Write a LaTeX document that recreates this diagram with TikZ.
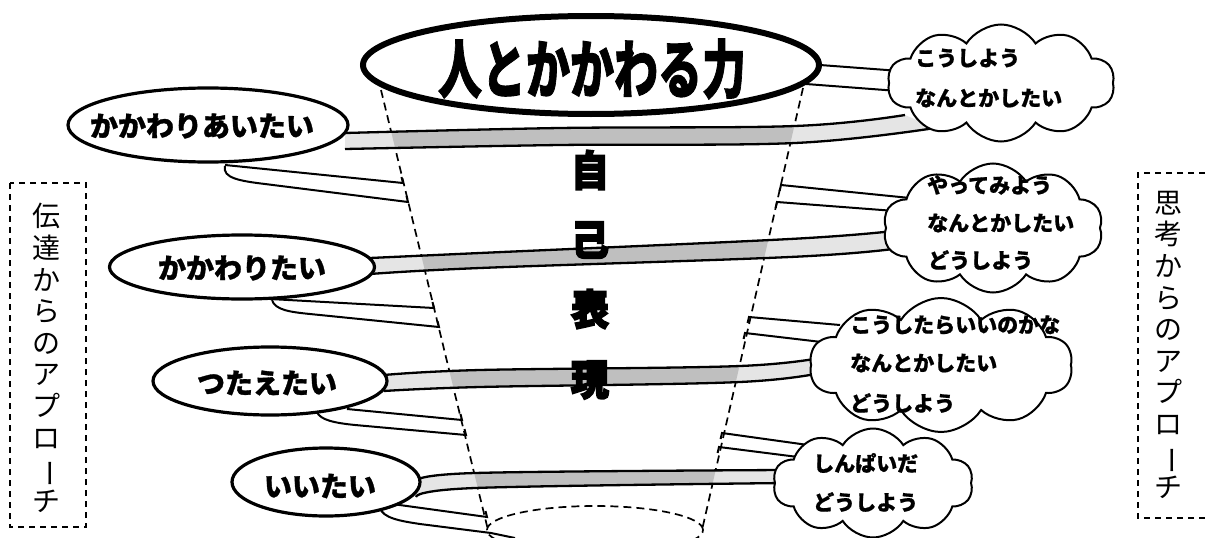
\documentclass[tikz,border=0pt]{standalone}
\usepackage{fontspec}
\usepackage{graphicx}
\usetikzlibrary{shapes.symbols,shapes.geometric}
\newfontfamily\jp{Noto Sans CJK JP}
\newcommand\bandA{plot[smooth, tension=0.6] coordinates {(345,133) (560,128) (795,126) (905,115)} -- plot[smooth, tension=0.6] coordinates {(935,128) (795,143) (560,145) (345,149)} -- cycle}
\newcommand\bandB{plot[smooth, tension=0.6] coordinates {(370,258) (480,253) (790,239) (893,231)} -- plot[smooth, tension=0.6] coordinates {(893,249) (790,257) (480,268) (370,274)} -- cycle}
\newcommand\bandC{plot[smooth, tension=0.6] coordinates {(384,375) (480,370) (740,366) (830,356)} -- plot[smooth, tension=0.6] coordinates {(830,371) (740,382) (480,387) (384,391)} -- cycle}
\newcommand\bandD{plot[smooth, tension=0.6] coordinates {(416,481) (475,473) (785,470)} -- plot[smooth, tension=0.6] coordinates {(785,483) (475,488) (416,497)} -- cycle}
\begin{document}
\begin{tikzpicture}[x=1pt,y=-1pt,
  conedash/.style={line width=1.7pt, dash pattern=on 8pt off 5pt},
  boxdash/.style={line width=1.5pt, dash pattern=on 6pt off 5pt},
  ring/.style={line width=2pt},
  bandedge/.style={line width=2.3pt},
  bandlight/.style={fill=gray!20},
  banddark/.style={fill=gray!50},
  ovalshape/.style={ellipse, draw, line width=3.2pt, fill=white, inner sep=0pt},
  ovaltext/.style={font=\jp\bfseries\fontsize{28}{28}\selectfont\addfontfeatures{FakeBold=1.2}, inner sep=0pt},
  cloudshape/.style={cloud, draw, fill=white, line width=2pt, cloud puffs=10, cloud puff arc=115, cloud ignores aspect, inner sep=0pt},
  cloudtext/.style={font=\jp\bfseries\fontsize{21}{21}\selectfont\addfontfeatures{FakeBold=0.8}, inner sep=0pt, anchor=west},
  sidetext/.style={font=\jp\fontsize{28}{31.6}\selectfont, align=center, inner sep=0pt},
  heavy/.style={font=\jp\bfseries\fontsize{38}{38}\selectfont\addfontfeatures{FakeBold=4}, inner sep=0pt}
]
\useasboundingbox (0,0) rectangle (1205,538);
\fill[white] (0,0) rectangle (1205,538);

% cone
\coordinate (cTL) at (381,90);
\coordinate (cBL) at (488,530);
\coordinate (cTR) at (803,88);
\coordinate (cBR) at (702,530);
\draw[conedash] (cTL) -- (cBL);
\draw[conedash] (cTR) -- (cBR);
\node[ellipse, draw, conedash, minimum width=216pt, minimum height=48pt, inner sep=0pt] (base) at (595,530) {};

% back rings, left side
\draw[ring] (225,165) -- (403,183) -- ++(-1.5,-6);
\draw[ring] (225,166) .. controls (222,178) and (240,181) .. (265,184) -- (408,202) -- ++(-1.5,-6);
\draw[ring] (270,299) -- (434,308) -- ++(-1.5,-6);
\draw[ring] (272,300) .. controls (275,310) and (290,312) .. (310,314) -- (439,327) -- ++(-1.5,-6);
\draw[ring] (347,409) -- (462,420) -- ++(-1.5,-6);
\draw[ring] (317,412) .. controls (320,420) and (335,423) .. (355,425) -- (466,435) -- ++(-1.5,-6);
\draw[ring] (385,503) -- (487,517) -- ++(-1.5,-6);
\draw[ring] (380,508) .. controls (383,518) and (400,521) .. (420,524) -- (491,533) -- (515,538);

% back rings, right side
\draw[ring] (820,65) -- (900,71);
\draw[ring] (806,84) -- (898,91);
\draw[ring] (779.6,191) -- (781,185) -- (910,198);
\draw[ring] (775.6,208) -- (777,202) -- (895,211);
\draw[ring] (747.6,323) -- (749,317) -- (840,325);
\draw[ring] (743.6,339) -- (745,333) -- (830,343);
\draw[ring] (720.6,439) -- (722,433) -- (808,445);
\draw[ring] (717.6,453) -- (719,447) -- (798,457);

% bands
\fill[bandlight] \bandA;
\fill[bandlight] \bandB;
\fill[bandlight] \bandC;
\fill[bandlight] \bandD;
\begin{scope}
  \clip (cTL) -- (cTR) -- (cBR) -- (cBL) -- cycle;
  \fill[banddark] \bandA;
  \fill[banddark] \bandB;
  \fill[banddark] \bandC;
  \fill[banddark] \bandD;
\end{scope}
\draw[bandedge] plot[smooth, tension=0.6] coordinates {(345,133) (560,128) (795,126) (905,115)};
\draw[bandedge] plot[smooth, tension=0.6] coordinates {(345,149) (560,145) (795,143) (935,128)};
\draw[bandedge] plot[smooth, tension=0.6] coordinates {(370,258) (480,253) (790,239) (893,231)};
\draw[bandedge] plot[smooth, tension=0.6] coordinates {(370,274) (480,268) (790,257) (893,249)};
\draw[bandedge] plot[smooth, tension=0.6] coordinates {(384,375) (480,370) (740,366) (830,356)};
\draw[bandedge] plot[smooth, tension=0.6] coordinates {(384,391) (480,387) (740,382) (830,371)};
\draw[bandedge] plot[smooth, tension=0.6] coordinates {(416,481) (475,473) (785,470)};
\draw[bandedge] plot[smooth, tension=0.6] coordinates {(416,497) (475,488) (785,483)};

% title ellipse
\node[ellipse, draw, line width=6pt, fill=white, minimum width=456pt, minimum height=98pt, inner sep=0pt] (title) at (591,65) {};
\node[inner sep=0pt, font=\jp\bfseries\fontsize{44}{44}\selectfont\addfontfeatures{FakeBold=1.5}] at (592,69) {\scalebox{1}[1.45]{人とかかわる力}};

% ovals
\node[ovalshape, minimum width=280pt, minimum height=74pt] (o1) at (208,125) {};
\node[ovaltext] at (202,126) {かかわりあいたい};
\node[ovalshape, minimum width=265pt, minimum height=64pt] (o2) at (242,267) {};
\node[ovaltext] at (242,268) {かかわりたい};
\node[ovalshape, minimum width=234pt, minimum height=68pt] (o3) at (270,381) {};
\node[ovaltext] at (267,383) {つたえたい};
\node[ovalshape, minimum width=188pt, minimum height=68pt] (o4) at (326,482) {};
\node[ovaltext] at (320,486) {いいたい};

% clouds
\node[cloudshape, minimum width=227pt, minimum height=117pt] (cl1) at (1001,83) {};
\node[cloudshape, minimum width=220pt, minimum height=129pt] (cl2) at (993,228) {};
\node[cloudshape, minimum width=263pt, minimum height=134pt] (cl3) at (941,365) {};
\node[cloudshape, minimum width=200pt, minimum height=109pt] (cl4) at (873,483) {};

\node[cloudtext] at (915,58) {こうしよう};
\node[cloudtext] at (915,98) {なんとかしたい};
\node[cloudtext] at (927,185) {やってみよう};
\node[cloudtext] at (927,223) {なんとかしたい};
\node[cloudtext] at (928,260) {どうしよう};
\node[cloudtext] at (850,325) {こうしたらいいのかな};
\node[cloudtext] at (850,363) {なんとかしたい};
\node[cloudtext] at (850,403) {どうしよう};
\node[cloudtext] at (813,463) {しんぱいだ};
\node[cloudtext] at (813,502) {どうしよう};

% central column
\node[heavy] (j1) at (590,170) {\scalebox{1}[1.1]{自}};
\node[heavy] (j2) at (590,240) {\scalebox{1}[1.1]{己}};
\node[heavy] (j3) at (590,309) {\scalebox{1}[1.1]{表}};
\node[heavy] (j4) at (590,380) {\scalebox{1}[1.1]{現}};

% side boxes
\draw[boxdash] (10,183) rectangle (86,527);
\node[sidetext] (lt) at (46,358) {伝\\達\\か\\ら\\の\\ア\\プ\\ロ\\\rotatebox[origin=c]{-90}{ー}\\チ};
\draw[boxdash] (1216,173) -- (1138,173) -- (1138,518) -- (1216,518);
\node[sidetext] (rt) at (1168,345) {思\\考\\か\\ら\\の\\ア\\プ\\ロ\\\rotatebox[origin=c]{-90}{ー}\\チ};
\end{tikzpicture}
\end{document}
